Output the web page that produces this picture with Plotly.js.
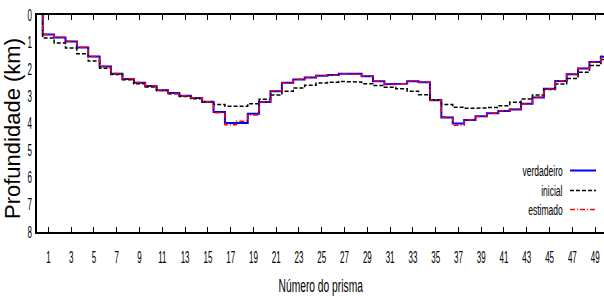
<!DOCTYPE html>
<html>
<head>
<meta charset="utf-8">
<script src="https://cdn.plot.ly/plotly-3.0.1.min.js"></script>
<style>
html,body{margin:0;padding:0;background:#fff;}
#chart{width:604px;height:296px;}
</style>
</head>
<body>
<div id="chart"></div>
<script>
const prisma = [1,2,3,4,5,6,7,8,9,10,11,12,13,14,15,16,17,18,19,20,21,22,23,24,25,26,27,28,29,30,31,32,33,34,35,36,37,38,39,40,41,42,43,44,45,46,47,48,49,50];

const verdadeiro = [0.72,0.83,0.98,1.20,1.53,1.90,2.17,2.36,2.50,2.62,2.77,2.88,2.98,3.06,3.20,3.58,3.98,3.98,3.64,3.21,2.81,2.50,2.38,2.30,2.24,2.21,2.17,2.17,2.26,2.44,2.55,2.53,2.44,2.48,3.14,3.78,4.00,3.87,3.73,3.62,3.54,3.48,3.27,3.04,2.72,2.43,2.18,1.97,1.73,1.54];

const inicial = [0.85,1.03,1.22,1.43,1.70,1.96,2.19,2.39,2.53,2.65,2.78,2.90,3.00,3.09,3.21,3.30,3.36,3.36,3.27,3.11,2.95,2.81,2.69,2.59,2.51,2.48,2.45,2.47,2.53,2.60,2.66,2.72,2.81,2.94,3.12,3.30,3.40,3.44,3.43,3.41,3.35,3.22,3.10,2.95,2.75,2.54,2.34,2.11,1.86,1.64];

const estimado = [0.72,0.82,0.97,1.19,1.53,1.89,2.16,2.35,2.49,2.62,2.77,2.89,2.98,3.05,3.20,3.60,4.05,3.92,3.69,3.21,2.80,2.51,2.37,2.30,2.23,2.22,2.17,2.18,2.25,2.44,2.56,2.53,2.43,2.48,3.14,3.76,4.06,3.86,3.74,3.62,3.53,3.47,3.28,3.03,2.73,2.42,2.19,1.96,1.74,1.50];

const xTickVals = [1,3,5,7,9,11,13,15,17,19,21,23,25,27,29,31,33,35,37,39,41,43,45,47,49];
const yTickVals = [0,1,2,3,4,5,6,7,8];

const legendNames = ['verdadeiro','inicial','estimado'];

// histogram-step outline: each prism spans [p-0.5, p+0.5], starting from depth 0
function steps(xs, vs){
  const X=[xs[0]-0.5], Y=[0];
  for(let i=0;i<xs.length;i++){
    X.push(xs[i]-0.5, xs[i]+0.5);
    Y.push(vs[i], vs[i]);
  }
  return {x:X, y:Y};
}

const sV = steps(prisma, verdadeiro);
const sI = steps(prisma, inicial);
const sE = steps(prisma, estimado);

const traces = [
  {x:sV.x, y:sV.y, type:'scatter', mode:'lines', name:legendNames[0],
   line:{color:'rgb(0,0,255)', width:2}},
  {x:sI.x, y:sI.y, type:'scatter', mode:'lines', name:legendNames[1],
   line:{color:'black', width:1.5, dash:'4px,2px'}},
  {x:sE.x, y:sE.y, type:'scatter', mode:'lines', name:legendNames[2],
   line:{color:'rgb(255,0,0)', width:1.5, dash:'5px,2px,1px,2px'}}
];

const font = 'Liberation Sans, Arial, sans-serif';
const legY = [0.2834, 0.191, 0.1037];
const legStyles = [
  {color:'rgb(0,0,255)', width:2, dash:'solid'},
  {color:'black', width:1.5, dash:'4px,2px'},
  {color:'rgb(255,0,0)', width:1.5, dash:'5px,2px,1px,2px'}
];

const annotations = legendNames.map((n,i)=>({
  xref:'paper', yref:'paper', x:0.931, y:legY[i], xanchor:'right', yanchor:'middle',
  text:n, showarrow:false, font:{family:font, size:15, color:'black'}
}));
const shapes = legendNames.map((n,i)=>({
  type:'line', xref:'paper', yref:'paper', x0:0.940, x1:0.986, y0:legY[i], y1:legY[i],
  line:legStyles[i]
}));

const layout = {
  width:604, height:296,
  margin:{l:37, r:0, t:15, b:64},
  paper_bgcolor:'white', plot_bgcolor:'white',
  showlegend:false,
  xaxis:{
    range:[0,49.78], autorange:false,
    tickvals:xTickVals, ticktext:xTickVals.map(String),
    ticks:'inside', ticklen:5, tickwidth:1, tickcolor:'black',
    showline:true, linewidth:2, linecolor:'black', mirror:'ticks',
    showgrid:false, zeroline:false,
    tickfont:{family:font, size:16, color:'black'},
    ticklabelstandoff:10, ticklabeloverflow:'allow',
    title:{text:'Número do prisma', font:{family:font, size:18, color:'black'}}
  },
  yaxis:{
    range:[8,0], autorange:false,
    tickvals:yTickVals, ticktext:yTickVals.map(String),
    ticks:'', showline:true, linewidth:2, linecolor:'black', mirror:false,
    showgrid:false, zeroline:false,
    tickfont:{family:font, size:16, color:'black'},
    title:{text:'Profundidade (km)', font:{family:font, size:22, color:'black'}}
  },
  annotations:annotations,
  shapes:shapes
};

function wrapG(el, transform){
  const NS='http://www.w3.org/2000/svg';
  const parent = el.parentNode;
  const g = document.createElementNS(NS,'g');
  parent.insertBefore(g, el);
  g.appendChild(el);
  if(transform) g.setAttribute('transform', transform);
  return g;
}
function squish(el, s, anchor){
  const g = wrapG(el, null);
  const bb = g.getBBox();
  const ax = anchor==='end' ? bb.x+bb.width : (anchor==='start' ? bb.x : bb.x+bb.width/2);
  g.setAttribute('transform','translate('+ax+',0) scale('+s+',1) translate('+(-ax)+',0)');
}

Plotly.newPlot('chart', traces, layout, {staticPlot:true, displayModeBar:false}).then(()=>{
  document.querySelectorAll('.xtick text').forEach(t=>squish(t,0.5,'middle'));
  document.querySelectorAll('.ytick text').forEach(t=>squish(t,0.5,'end'));
  document.querySelectorAll('.xtitle').forEach(t=>squish(t,0.57,'middle'));
  document.querySelectorAll('.annotation-text').forEach(t=>squish(t,0.57,'end'));
  document.querySelectorAll('.ytitle').forEach(t=>wrapG(t,'translate(0,5)'));
});
</script>
</body>
</html>
